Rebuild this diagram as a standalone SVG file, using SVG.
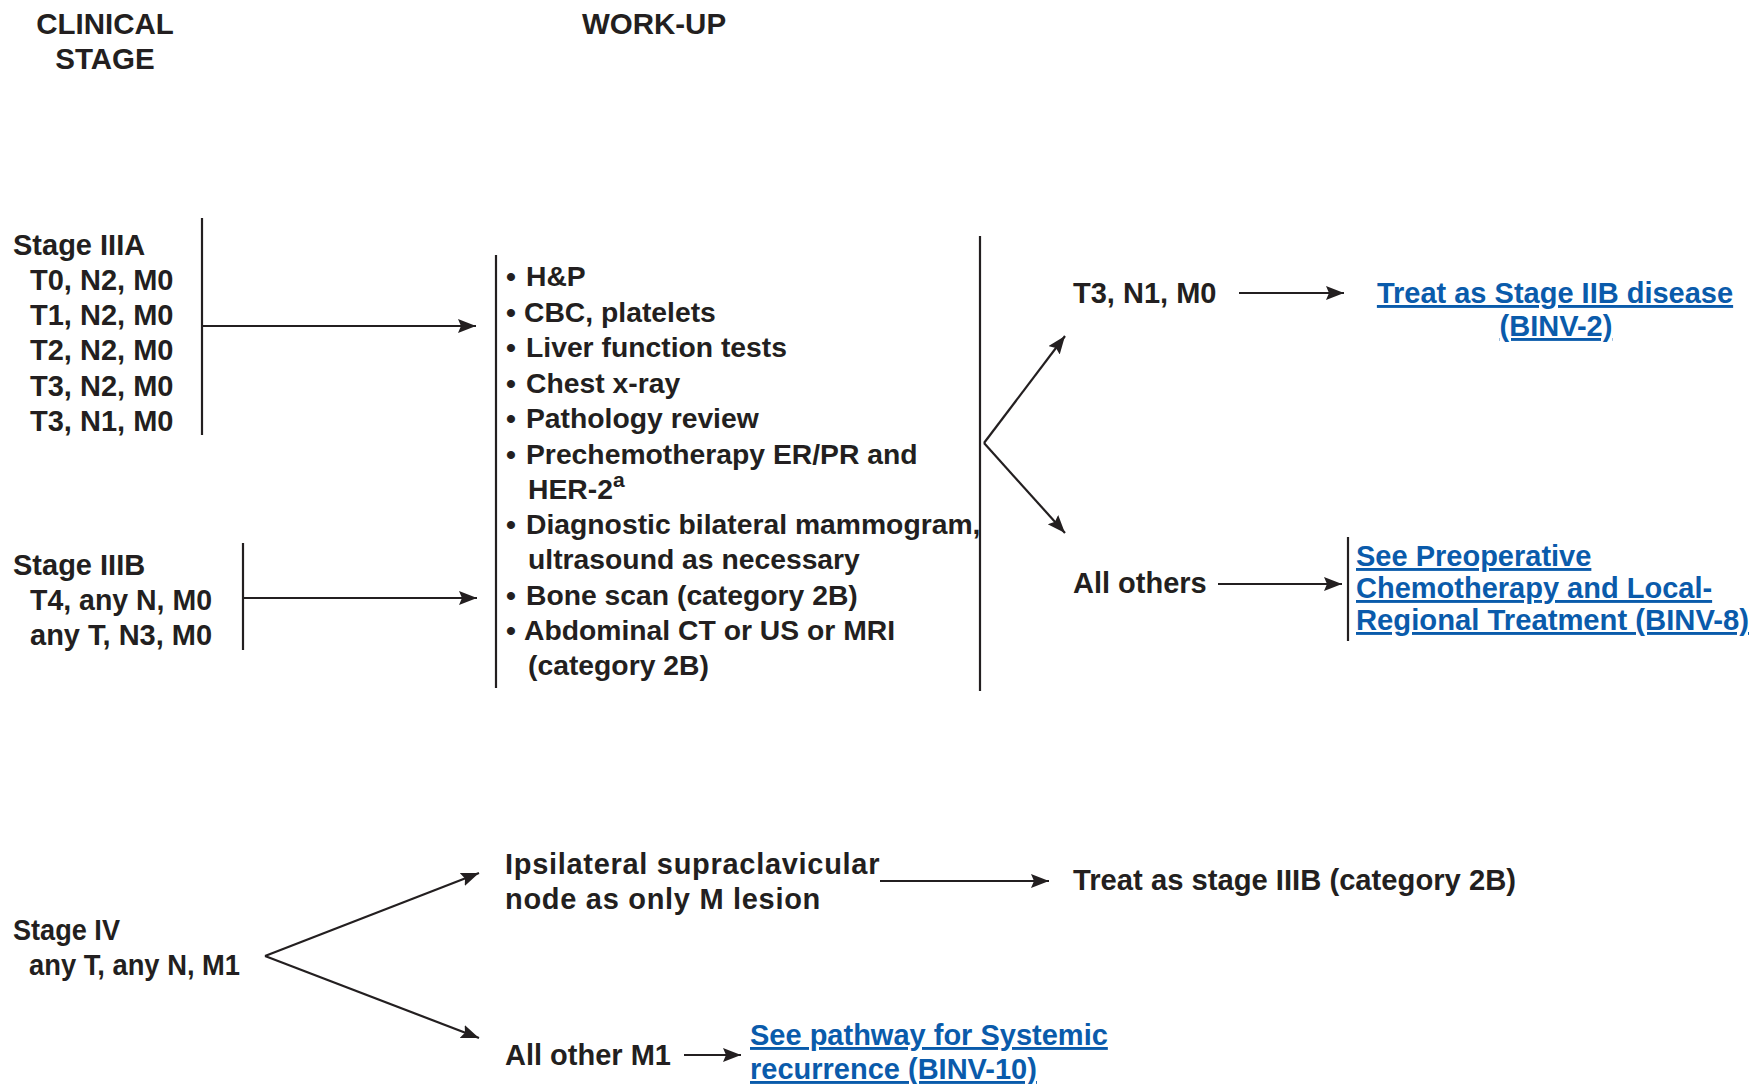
<svg xmlns="http://www.w3.org/2000/svg" width="1762" height="1084" viewBox="0 0 1762 1084">
  <style>
    .t { font-family: "Liberation Sans", Arial, Helvetica, sans-serif; font-weight: bold; font-size: 29px; fill: #231f20; }
    .hd { font-size: 29.5px; text-anchor: middle; }
    .wk { font-size: 28.3px; }
    .lnk { fill: #0a5bab; text-decoration: underline; }
    .mid { text-anchor: middle; }
    .ln { stroke: #231f20; stroke-width: 2.2; fill: none; }
    .arr { marker-end: url(#ah); }
  </style>
  <defs>
    <marker id="ah" markerUnits="userSpaceOnUse" markerWidth="20" markerHeight="16" refX="18" refY="7" orient="auto">
      <path d="M0,0 L18,7 L0,14 L3,7 z" fill="#231f20"/>
    </marker>
  </defs>
  <rect width="1762" height="1084" fill="#ffffff"/>

  <!-- column headings -->
  <g id="hdr-stage">
    <text class="t hd" x="105" y="34">CLINICAL</text>
    <text class="t hd" x="105" y="69">STAGE</text>
  </g>
  <g id="hdr-workup">
    <text class="t hd" x="654" y="34">WORK-UP</text>
  </g>

  <!-- Stage IIIA -->
  <g id="stage-iiia">
    <text class="t" x="13" y="255">Stage IIIA</text>
    <text class="t" x="30" y="290">T0, N2, M0</text>
    <text class="t" x="30" y="325">T1, N2, M0</text>
    <text class="t" x="30" y="360">T2, N2, M0</text>
    <text class="t" x="30" y="396">T3, N2, M0</text>
    <text class="t" x="30" y="431">T3, N1, M0</text>
  </g>

  <!-- Stage IIIB -->
  <g id="stage-iiib">
    <text class="t" x="13" y="575">Stage IIIB</text>
    <text class="t" x="30" y="610" textLength="182" lengthAdjust="spacingAndGlyphs">T4, any N, M0</text>
    <text class="t" x="30" y="645">any T, N3, M0</text>
  </g>

  <!-- Work-up list -->
  <g id="workup">
    <text class="t wk"><tspan x="506" y="286">•</tspan><tspan x="526" y="286">H&amp;P</tspan></text>
    <text class="t wk"><tspan x="506" y="322">•</tspan><tspan x="524" y="322">CBC, platelets</tspan></text>
    <text class="t wk"><tspan x="506" y="357">•</tspan><tspan x="526" y="357">Liver function tests</tspan></text>
    <text class="t wk"><tspan x="506" y="393">•</tspan><tspan x="526" y="393">Chest x-ray</tspan></text>
    <text class="t wk"><tspan x="506" y="428">•</tspan><tspan x="526" y="428">Pathology review</tspan></text>
    <text class="t wk"><tspan x="506" y="464">•</tspan><tspan x="526" y="464">Prechemotherapy ER/PR and</tspan></text>
    <text class="t wk" x="528" y="499">HER-2<tspan font-size="21" dy="-12">a</tspan></text>
    <text class="t wk"><tspan x="506" y="534">•</tspan><tspan x="526" y="534">Diagnostic bilateral mammogram,</tspan></text>
    <text class="t wk" x="528" y="569">ultrasound as necessary</text>
    <text class="t wk"><tspan x="506" y="605">•</tspan><tspan x="526" y="605">Bone scan (category 2B)</tspan></text>
    <text class="t wk"><tspan x="506" y="640">•</tspan><tspan x="524" y="640">Abdominal CT or US or MRI</tspan></text>
    <text class="t wk" x="528" y="675">(category 2B)</text>
  </g>

  <!-- outcomes after work-up -->
  <g id="t3n1m0">
    <text class="t" x="1073" y="303">T3, N1, M0</text>
  </g>
  <g id="treat-iib">
    <text class="t lnk mid" x="1555" y="303">Treat as Stage IIB disease</text>
    <text class="t lnk mid" x="1556" y="336">(BINV-2)</text>
  </g>
  <g id="all-others">
    <text class="t" x="1073" y="593">All others</text>
  </g>
  <g id="preop">
    <text class="t lnk" x="1356" y="566">See Preoperative</text>
    <text class="t lnk" x="1356" y="598">Chemotherapy and Local-</text>
    <text class="t lnk" x="1356" y="630" textLength="393" lengthAdjust="spacingAndGlyphs">Regional Treatment (BINV-8)</text>
  </g>

  <!-- Stage IV -->
  <g id="stage-iv">
    <text class="t" x="13" y="940" textLength="107" lengthAdjust="spacingAndGlyphs">Stage IV</text>
    <text class="t" x="29" y="975" textLength="211" lengthAdjust="spacingAndGlyphs">any T, any N, M1</text>
  </g>
  <g id="supraclav">
    <text class="t" x="505" y="874" letter-spacing="0.7">Ipsilateral supraclavicular</text>
    <text class="t" x="505" y="909" letter-spacing="0.7">node as only M lesion</text>
  </g>
  <g id="treat-iiib">
    <text class="t" x="1073" y="890" textLength="443" lengthAdjust="spacingAndGlyphs">Treat as stage IIIB (category 2B)</text>
  </g>
  <g id="other-m1">
    <text class="t" x="505" y="1065">All other M1</text>
  </g>
  <g id="systemic">
    <text class="t lnk" x="750" y="1045">See pathway for Systemic</text>
    <text class="t lnk" x="750" y="1079">recurrence (BINV-10)</text>
  </g>

  <!-- connectors -->
  <g id="connectors">
    <line class="ln" x1="202" y1="218" x2="202" y2="435"/>
    <line class="ln arr" x1="202" y1="326" x2="476" y2="326"/>
    <line class="ln" x1="243" y1="543" x2="243" y2="650"/>
    <line class="ln arr" x1="243" y1="598" x2="477" y2="598"/>
    <line class="ln" x1="496" y1="255" x2="496" y2="688"/>
    <line class="ln" x1="980" y1="236" x2="980" y2="691"/>
    <polyline class="ln arr" points="984,443 1065,336"/>
    <polyline class="ln arr" points="984,443 1065,533"/>
    <line class="ln arr" x1="1239" y1="293" x2="1344" y2="293"/>
    <line class="ln arr" x1="1218" y1="584" x2="1342" y2="584"/>
    <line class="ln" x1="1348" y1="537" x2="1348" y2="641"/>
    <line class="ln arr" x1="265" y1="956" x2="479" y2="873"/>
    <line class="ln arr" x1="265" y1="956" x2="479" y2="1038"/>
    <line class="ln arr" x1="880" y1="881" x2="1049" y2="881"/>
    <line class="ln arr" x1="684" y1="1055" x2="741" y2="1055"/>
  </g>
</svg>
